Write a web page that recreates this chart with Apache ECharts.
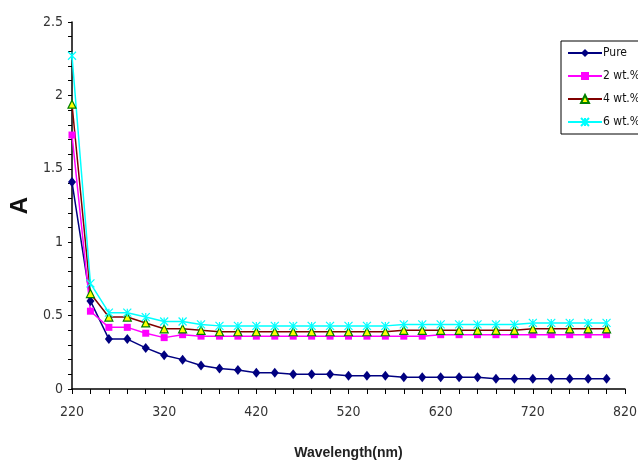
<!DOCTYPE html>
<html>
<head>
<meta charset="utf-8">
<script src="https://cdn.jsdelivr.net/npm/echarts@6/dist/echarts.min.js"></script>
<style>html,body{margin:0;padding:0;background:#fff;}#c{width:638px;height:466px;}</style>
</head>
<body>
<div id="c"></div>
<script>
var wavelengths = [220,240,260,280,300,320,340,360,380,400,420,440,460,480,500,520,540,560,580,600,620,640,660,680,700,720,740,760,780,800];
var pure = [1.41,0.60,0.34,0.34,0.28,0.23,0.20,0.16,0.14,0.13,0.11,0.11,0.10,0.10,0.10,0.09,0.09,0.09,0.08,0.08,0.08,0.08,0.08,0.07,0.07,0.07,0.07,0.07,0.07,0.07];
var wt2 = [1.73,0.53,0.42,0.42,0.38,0.35,0.37,0.36,0.36,0.36,0.36,0.36,0.36,0.36,0.36,0.36,0.36,0.36,0.36,0.36,0.37,0.37,0.37,0.37,0.37,0.37,0.37,0.37,0.37,0.37];
var wt4 = [1.94,0.65,0.49,0.49,0.45,0.41,0.41,0.40,0.39,0.39,0.39,0.39,0.39,0.39,0.39,0.39,0.39,0.39,0.40,0.40,0.40,0.40,0.40,0.40,0.40,0.41,0.41,0.41,0.41,0.41];
var wt6 = [2.27,0.72,0.52,0.52,0.49,0.46,0.46,0.44,0.43,0.43,0.43,0.43,0.43,0.43,0.43,0.43,0.43,0.43,0.44,0.44,0.44,0.44,0.44,0.44,0.44,0.45,0.45,0.45,0.45,0.45];
var seriesNames = ['Pure','2 wt.%','4 wt.%','6 wt.%'];
var xTickLabels = [220,320,420,520,620,720,820];
var yTickLabels = [0,0.5,1,1.5,2,2.5];

function pairs(arr){ return wavelengths.map(function(w,i){ return [w, arr[i]]; }); }
var FONT = "'Liberation Sans Narrow','DejaVu Sans Condensed','Liberation Sans',Arial,sans-serif";

var chart = echarts.init(document.getElementById('c'), null, {renderer:'canvas'});
chart.setOption({
  animation:false,
  backgroundColor:'#ffffff',
  grid:{left:72, right:13, top:22, bottom:77, containLabel:false, outerBoundsMode:'none'},
  legend:{
    orient:'vertical', left:561, top:41,
    padding:[6,30,6,6], itemGap:11, itemWidth:34, itemHeight:10,
    borderColor:'#000', borderWidth:1, backgroundColor:'#fff', borderRadius:0,
    textStyle:{fontFamily:FONT, fontSize:12, color:'#111', padding:[0,0,0,-4]},
    data:seriesNames
  },
  xAxis:{
    type:'value', min:220, max:820, interval:20,
    name:'Wavelength(nm)', nameLocation:'middle', nameGap:57,
    nameTextStyle:{fontFamily:"'Liberation Sans',Arial,sans-serif", fontWeight:'bold', fontSize:14, color:'#222'},
    axisLine:{show:true, lineStyle:{color:'#000', width:1.5}},
    axisTick:{show:true, length:5, inside:false, lineStyle:{color:'#000', width:1}},
    splitLine:{show:false},
    axisLabel:{
      margin:16, fontFamily:FONT, fontSize:14, color:'#333',
      formatter:function(v){ return xTickLabels.indexOf(Math.round(v))>=0 ? String(Math.round(v)) : ''; }
    }
  },
  yAxis:{
    type:'value', min:0, max:2.5, interval:0.1,
    name:'A', nameLocation:'middle', nameGap:40, nameRotate:90,
    nameTextStyle:{fontFamily:"'Liberation Sans',Arial,sans-serif", fontWeight:'bold', fontSize:24, color:'#111'},
    axisLine:{show:true, lineStyle:{color:'#000', width:1.5}},
    axisTick:{show:true, length:4, inside:false, lineStyle:{color:'#000', width:1}},
    splitLine:{show:false},
    axisLabel:{
      margin:9, fontFamily:FONT, fontSize:14, color:'#333',
      formatter:function(v){
        var r = Math.round(v*10)/10;
        for (var i=0;i<yTickLabels.length;i++){ if (Math.abs(yTickLabels[i]-r)<1e-6) return String(yTickLabels[i]); }
        return '';
      }
    }
  },
  series:[
    {name:seriesNames[0], type:'line', data:pairs(pure), symbol:'diamond', symbolSize:[8,10],
     lineStyle:{color:'#000080', width:1.5}, itemStyle:{color:'#000080'}},
    {name:seriesNames[1], type:'line', data:pairs(wt2), symbol:'rect', symbolSize:7,
     lineStyle:{color:'#ff00ff', width:1.5}, itemStyle:{color:'#ff00ff'}},
    {name:seriesNames[2], type:'line', data:pairs(wt4), symbol:'triangle', symbolSize:8,
     lineStyle:{color:'#800000', width:1.5}, itemStyle:{color:'#ffff00', borderColor:'#008000', borderWidth:1.2}},
    {name:seriesNames[3], type:'line', data:pairs(wt6), symbol:'path://M0,0L10,10M10,0L0,10M5,0L5,10', symbolSize:8,
     lineStyle:{color:'#00ffff', width:1.5}, itemStyle:{color:'#00ffff', borderColor:'#00ffff', borderWidth:1.2}}
  ]
});
</script>
</body>
</html>
